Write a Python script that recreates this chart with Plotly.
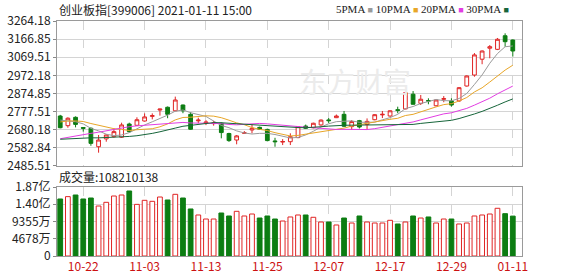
import plotly.graph_objects as go
import pandas as pd

dates = ["10-19", "10-20", "10-21", "10-22", "10-23", "10-26", "10-27", "10-28", "10-29", "10-30",
         "11-02", "11-03", "11-04", "11-05", "11-06", "11-09", "11-10", "11-11", "11-12", "11-13",
         "11-16", "11-17", "11-18", "11-19", "11-20", "11-23", "11-24", "11-25", "11-26", "11-27",
         "11-30", "12-01", "12-02", "12-03", "12-04", "12-07", "12-08", "12-09", "12-10", "12-11",
         "12-14", "12-15", "12-16", "12-17", "12-18", "12-21", "12-22", "12-23", "12-24", "12-25",
         "12-28", "12-29", "12-30", "12-31", "01-04", "01-05", "01-06", "01-07", "01-08", "01-11"]

opens = [2754, 2702, 2747, 2692, 2688, 2589, 2631, 2643, 2640, 2711,
         2704, 2727, 2752, 2786, 2801, 2782, 2813, 2763, 2728, 2716,
         2713, 2715, 2660, 2625, 2661, 2679, 2693, 2682, 2620, 2614,
         2616, 2638, 2700, 2691, 2706, 2733, 2745, 2763, 2697, 2729,
         2708, 2734, 2760, 2754, 2788, 2792, 2871, 2822, 2837, 2809,
         2844, 2835, 2835, 2915, 2974, 3059, 3118, 3112, 3185, 3162]
highs = [2760, 2747, 2752, 2694, 2693, 2652, 2655, 2688, 2718, 2718,
         2747, 2768, 2768, 2793, 2805, 2858, 2815, 2775, 2745, 2732,
         2728, 2720, 2664, 2652, 2673, 2710, 2697, 2686, 2637, 2630,
         2661, 2700, 2708, 2718, 2736, 2743, 2762, 2781, 2732, 2733,
         2741, 2764, 2781, 2785, 2804, 2882, 2888, 2867, 2849, 2843,
         2861, 2849, 2909, 2972, 3092, 3106, 3135, 3173, 3198, 3165]
lows = [2688, 2691, 2693, 2670, 2594, 2557, 2616, 2638, 2636, 2665,
        2700, 2724, 2736, 2756, 2742, 2780, 2769, 2680, 2715, 2705,
        2702, 2634, 2615, 2602, 2658, 2661, 2679, 2618, 2589, 2598,
        2598, 2635, 2684, 2688, 2702, 2716, 2743, 2695, 2679, 2687,
        2679, 2731, 2743, 2751, 2769, 2790, 2815, 2813, 2817, 2806,
        2828, 2804, 2830, 2912, 2965, 3032, 3064, 3108, 3126, 3073]
closes = [2691, 2742, 2709, 2688, 2607, 2625, 2652, 2670, 2706, 2670,
          2734, 2749, 2756, 2791, 2763, 2840, 2782, 2683, 2732, 2721,
          2716, 2665, 2622, 2647, 2664, 2688, 2683, 2622, 2616, 2617,
          2643, 2697, 2688, 2715, 2732, 2729, 2754, 2699, 2724, 2695,
          2725, 2761, 2763, 2782, 2784, 2879, 2817, 2844, 2834, 2840,
          2847, 2813, 2906, 2969, 3082, 3103, 3126, 3166, 3153, 3103]
volumes = [154600000, 161000000, 165400000, 154600000, 157300000, 135600000, 145600000, 162700000, 165400000, 176300000,
           140000000, 151000000, 148300000, 160000000, 151900000, 167300000, 157300000, 127500000, 111200000, 100300000,
           100300000, 116600000, 108500000, 121200000, 108500000, 113900000, 103000000, 108500000, 100300000, 94900000,
           105800000, 111200000, 111200000, 105000000, 92200000, 92200000, 84100000, 103000000, 89500000, 108500000,
           92200000, 89500000, 89500000, 96800000, 86800000, 92200000, 108500000, 103000000, 105800000, 89500000,
           100300000, 100300000, 86800000, 89500000, 108500000, 111200000, 113900000, 129400000, 114800000, 108210138]
# closes of the 29 sessions before the window (needed for the moving averages)
prior_closes = [2660, 2640, 2600, 2610, 2635, 2620, 2600, 2615, 2630, 2620,
                2580, 2550, 2530, 2510, 2500, 2490, 2520, 2540, 2560, 2640,
                2690, 2705, 2720, 2715, 2730, 2755, 2740, 2745, 2729]

ma_periods = [5, 10, 20, 30]
ma_names = ["5PMA", "10PMA", "20PMA", "30PMA"]
ma_colors = ["#9a9a9a", "#e8a628", "#e23de2", "#16653a"]

price_ticks = [2485.51, 2582.84, 2680.18, 2777.51, 2874.85, 2972.18, 3069.51, 3166.85, 3264.18]
vol_ticks = [0, 46780000, 93560000, 140340000, 187120000]
vol_tick_labels = ["0", "4678万", "9355万", "1.40亿", "1.87亿"]
date_ticks = ["10-22", "11-03", "11-13", "11-25", "12-07", "12-17", "12-29", "01-11"]

RED = "#e02424"
GREEN = "#0c7d12"
GRID = "#d4d4d4"
FONT = "Noto Sans CJK SC"

fig = go.Figure()
fig.add_trace(go.Candlestick(
    x=dates, open=opens, high=highs, low=lows, close=closes,
    xaxis="x", yaxis="y", whiskerwidth=0,
    increasing=dict(line=dict(color=RED, width=1), fillcolor="white"),
    decreasing=dict(line=dict(color=GREEN, width=1), fillcolor=GREEN),
    showlegend=False, hoverinfo="skip"))

all_closes = pd.Series(prior_closes + closes, dtype=float)
for p, name, col in zip(ma_periods, ma_names, ma_colors):
    ma = all_closes.rolling(p).mean().iloc[len(prior_closes):].tolist()
    fig.add_trace(go.Scatter(x=dates, y=ma, mode="lines", name=name,
                             line=dict(color=col, width=1), xaxis="x", yaxis="y",
                             showlegend=False, hoverinfo="skip"))

up = [c >= o for o, c in zip(opens, closes)]
fig.add_trace(go.Bar(
    x=dates, y=volumes, xaxis="x2", yaxis="y2", width=0.62,
    marker=dict(color=["white" if u else GREEN for u in up],
                line=dict(color=[RED if u else GREEN for u in up], width=1)),
    showlegend=False, hoverinfo="skip"))

xcommon = dict(type="category", range=[-0.42, 60.2], tickvals=date_ticks,
               showgrid=True, gridcolor=GRID, griddash="dash", gridwidth=1,
               showline=True, mirror=True, linecolor="#9a9a9a", linewidth=1,
               ticks="", zeroline=False, fixedrange=True, automargin=False)

ycommon = dict(showgrid=True, gridcolor=GRID, showline=True, mirror=True,
               linecolor="#9a9a9a", ticks="outside", ticklen=3, tickcolor="#888888",
               tickfont=dict(family=FONT, size=12, color="#222222"), zeroline=False,
               automargin=False)

fig.update_layout(
    width=578, height=276, autosize=False,
    margin=dict(l=57, r=56, t=21, b=20),
    paper_bgcolor="white", plot_bgcolor="white",
    font=dict(family=FONT, size=11, color="#222222"),
    xaxis=dict(xcommon, anchor="y", showticklabels=False, rangeslider=dict(visible=False)),
    xaxis2=dict(xcommon, anchor="y2", matches="x", showticklabels=True,
                tickfont=dict(family=FONT, size=12, color="#cc1111")),
    yaxis=dict(ycommon, domain=[0.383, 1.0], range=[price_ticks[0], price_ticks[-1]],
               tickvals=price_ticks, ticktext=["%.2f" % v for v in price_ticks]),
    yaxis2=dict(ycommon, domain=[0.0, 0.2936], range=[0, vol_ticks[-1]],
                tickvals=vol_ticks, ticktext=vol_tick_labels),
    bargap=0.3,
)

annotations = [
    dict(text="创业板指[399006] 2021-01-11 15:00", x=0.0, y=1.047, xref="paper", yref="paper",
         xanchor="left", yanchor="middle", showarrow=False,
         font=dict(family=FONT, size=12, color="#222222")),
    dict(text="成交量:%d" % volumes[-1], x=0.0, y=0.340, xref="paper", yref="paper",
         xanchor="left", yanchor="middle", showarrow=False,
         font=dict(family=FONT, size=12, color="#222222")),
    dict(text="东方财富", x=0.64, y=0.745, xref="paper", yref="paper",
         xanchor="center", yanchor="middle", showarrow=False,
         font=dict(family=FONT, size=28, color="#ebebeb")),
]
legend_html = " ".join(
    "%s<span style='font-size:9px;color:%s'> ■</span>" % (n, c) for n, c in zip(ma_names, ma_colors))
annotations.append(dict(text=legend_html, x=0.787, y=1.05, xref="paper", yref="paper",
                        xanchor="center", yanchor="middle", showarrow=False,
                        font=dict(family="Liberation Serif", size=11, color="#222222")))
fig.update_layout(annotations=annotations)

fig.write_html("out.html", config={"displayModeBar": False})
